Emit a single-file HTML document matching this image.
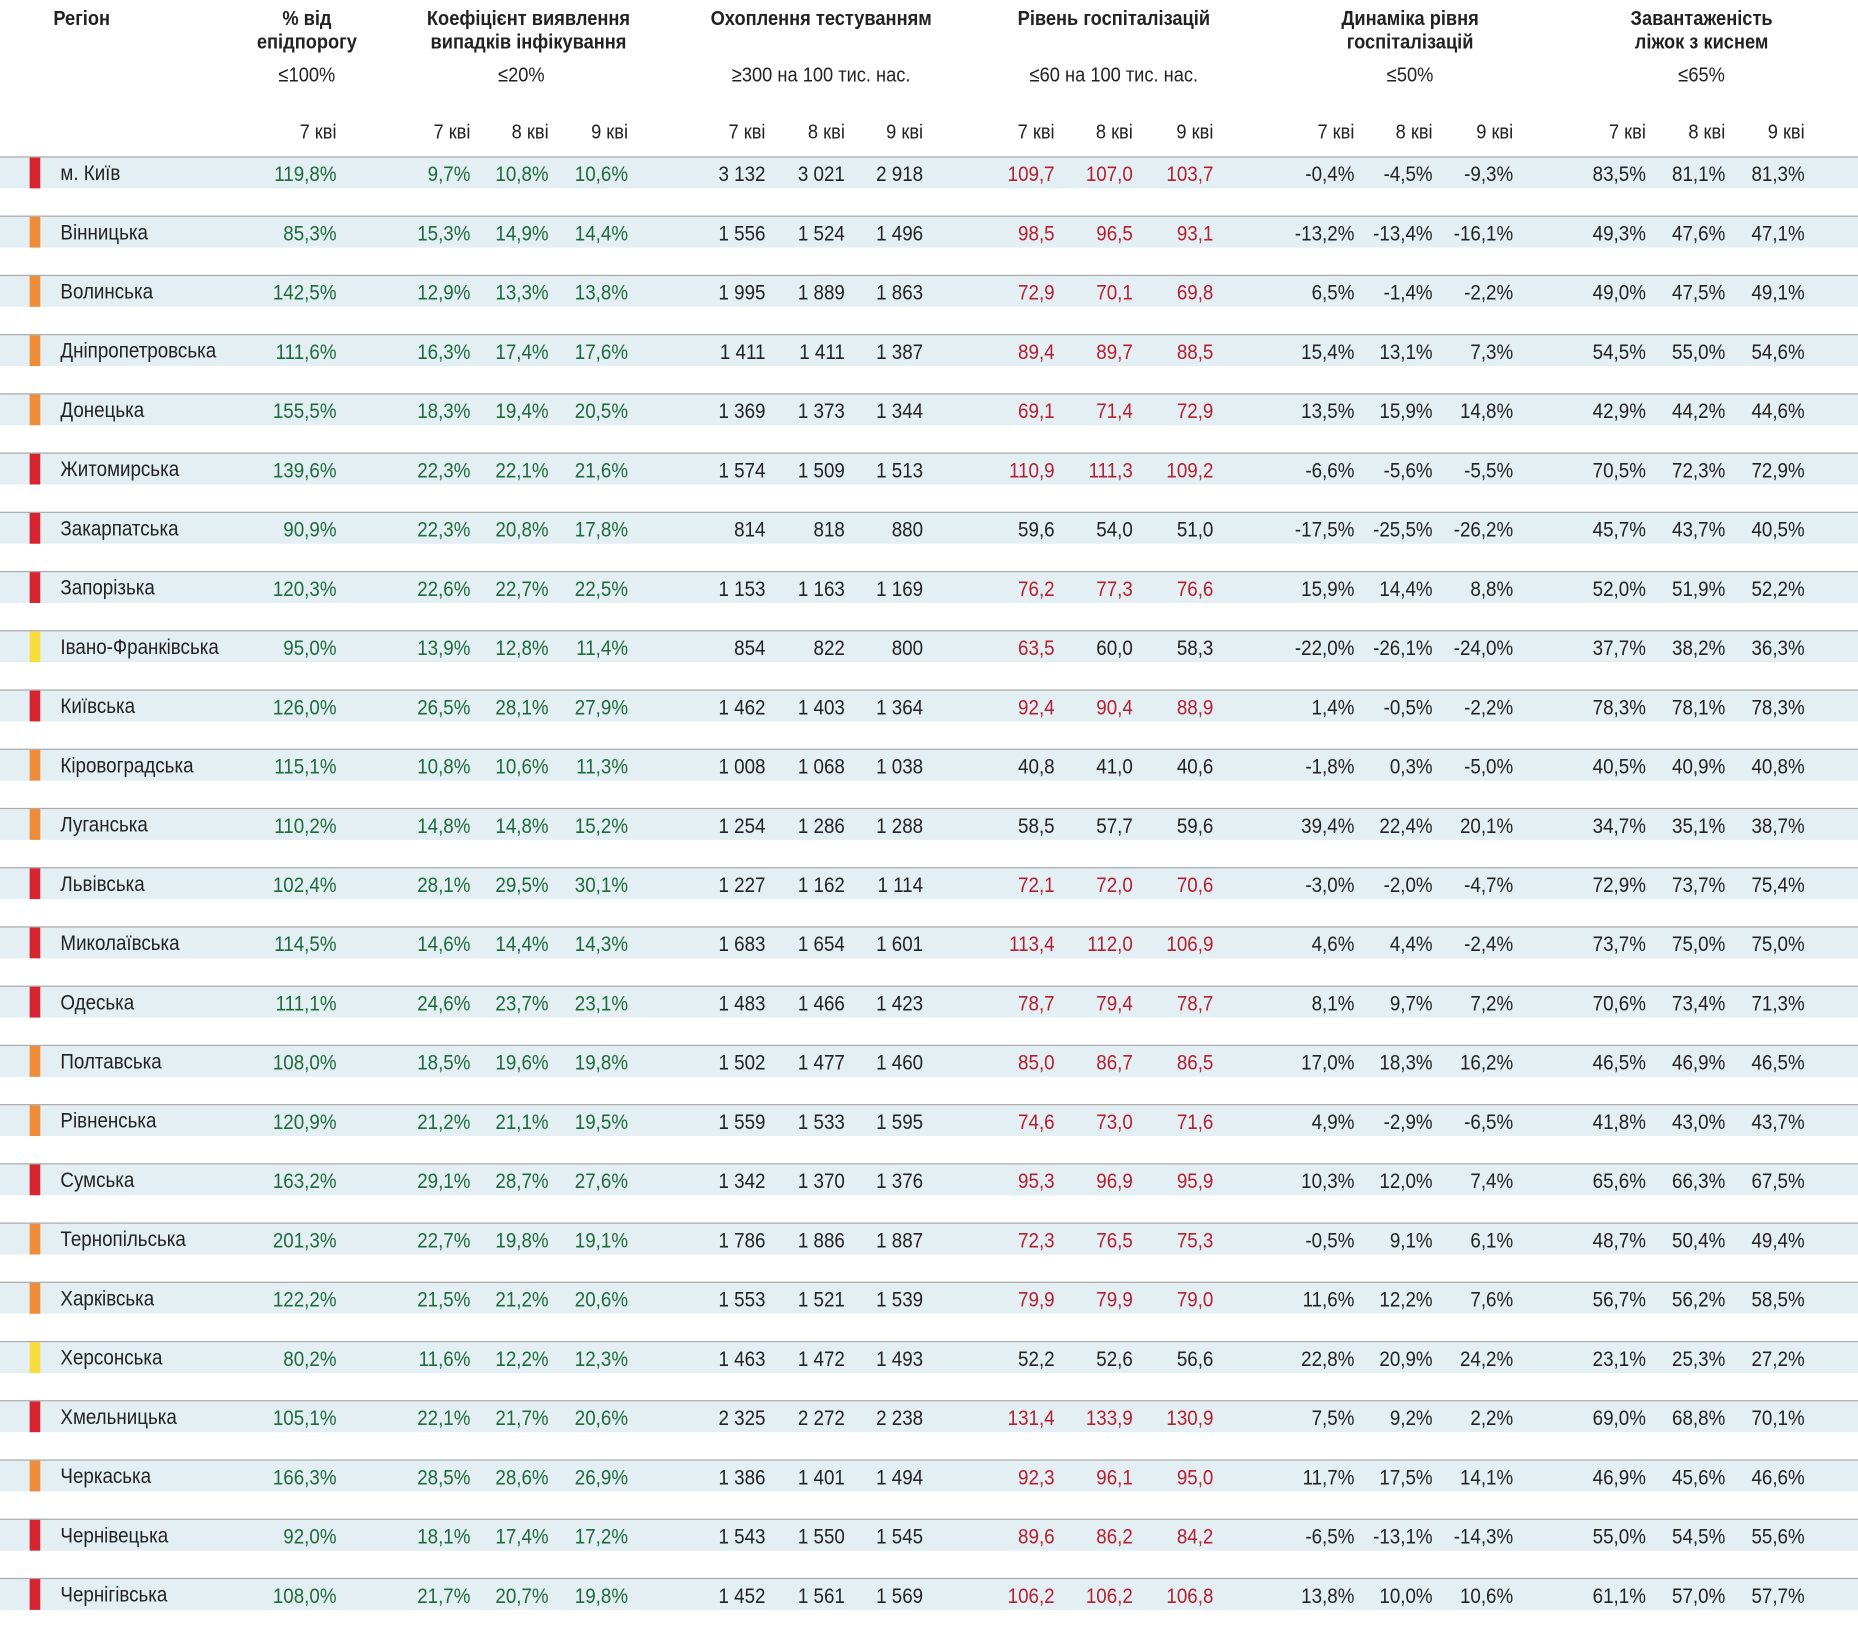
<!DOCTYPE html>
<html><head><meta charset="utf-8">
<style>
html,body{margin:0;padding:0;background:#fff;width:1858px;height:1630px;overflow:hidden}
#wrap{position:absolute;left:0;top:0;width:1568px;height:1376px;transform:scale(1.18495,1.1846);transform-origin:0 0;font-family:"Liberation Sans Narrow","Liberation Sans",sans-serif;color:#222;font-size:18px}
.h{position:absolute;text-align:center;width:260px;margin-left:-130px;line-height:20px;font-weight:bold;font-size:17.5px;color:#222;transform:scaleX(0.88);transform-origin:50% 0}
.t{position:absolute;text-align:center;width:260px;margin-left:-130px;font-size:17.5px;transform:scaleX(0.88);transform-origin:50% 0}
.q{position:absolute;text-align:right;width:70px;font-size:17.5px;transform:scaleX(0.88);transform-origin:100% 0}
.band{position:absolute;left:0;width:1568px;height:26px;background:#e4eff4;border-top:1.5px solid #a9a9a9}
.mk{position:absolute;left:25px;width:9px;height:26px;top:0}
.c{position:absolute;top:1px;line-height:26px;text-align:right;width:90px;transform:scaleX(0.88);transform-origin:100% 0}
.rn{position:absolute;left:51px;top:0px;line-height:26px;transform:scaleX(0.88);transform-origin:0 0;white-space:nowrap}
.g{color:#1d6b3a}.r{color:#b3202f}
</style></head><body>
<div id="wrap">
<div style="position:absolute;left:45px;top:5px;font-weight:bold;font-size:17.5px;transform:scaleX(0.88);transform-origin:0 0">Регіон</div>
<div class="h" style="left:259px;top:5px">% від<br>епідпорогу</div>
<div class="h" style="left:446px;top:5px">Коефіцієнт виявлення<br>випадків інфікування</div>
<div class="h" style="left:693px;top:5px">Охоплення тестуванням</div>
<div class="h" style="left:940px;top:5px">Рівень госпіталізацій</div>
<div class="h" style="left:1190px;top:5px">Динаміка рівня<br>госпіталізацій</div>
<div class="h" style="left:1436px;top:5px">Завантаженість<br>ліжок з киснем</div>
<div class="t" style="left:259px;top:53px">≤100%</div>
<div class="t" style="left:440px;top:53px">≤20%</div>
<div class="t" style="left:693px;top:53px">≥300 на 100 тис. нас.</div>
<div class="t" style="left:940px;top:53px">≤60 на 100 тис. нас.</div>
<div class="t" style="left:1190px;top:53px">≤50%</div>
<div class="t" style="left:1436px;top:53px">≤65%</div>
<div id="dates"></div>
<div id="rows"></div>
</div>
<script>
const regions=["м. Київ","Вінницька","Волинська","Дніпропетровська","Донецька","Житомирська","Закарпатська","Запорізька","Івано-Франківська","Київська","Кіровоградська","Луганська","Львівська","Миколаївська","Одеська","Полтавська","Рівненська","Сумська","Тернопільська","Харківська","Херсонська","Хмельницька","Черкаська","Чернівецька","Чернігівська"];
const levels=["r","o","o","o","o","r","r","r","y","r","o","o","r","r","r","o","o","r","o","o","y","r","o","r","r"];
const epi=["119,8%","85,3%","142,5%","111,6%","155,5%","139,6%","90,9%","120,3%","95,0%","126,0%","115,1%","110,2%","102,4%","114,5%","111,1%","108,0%","120,9%","163,2%","201,3%","122,2%","80,2%","105,1%","166,3%","92,0%","108,0%"];
const coef7=["9,7%","15,3%","12,9%","16,3%","18,3%","22,3%","22,3%","22,6%","13,9%","26,5%","10,8%","14,8%","28,1%","14,6%","24,6%","18,5%","21,2%","29,1%","22,7%","21,5%","11,6%","22,1%","28,5%","18,1%","21,7%"];
const coef8=["10,8%","14,9%","13,3%","17,4%","19,4%","22,1%","20,8%","22,7%","12,8%","28,1%","10,6%","14,8%","29,5%","14,4%","23,7%","19,6%","21,1%","28,7%","19,8%","21,2%","12,2%","21,7%","28,6%","17,4%","20,7%"];
const coef9=["10,6%","14,4%","13,8%","17,6%","20,5%","21,6%","17,8%","22,5%","11,4%","27,9%","11,3%","15,2%","30,1%","14,3%","23,1%","19,8%","19,5%","27,6%","19,1%","20,6%","12,3%","20,6%","26,9%","17,2%","19,8%"];
const test7=["3 132","1 556","1 995","1 411","1 369","1 574","814","1 153","854","1 462","1 008","1 254","1 227","1 683","1 483","1 502","1 559","1 342","1 786","1 553","1 463","2 325","1 386","1 543","1 452"];
const test8=["3 021","1 524","1 889","1 411","1 373","1 509","818","1 163","822","1 403","1 068","1 286","1 162","1 654","1 466","1 477","1 533","1 370","1 886","1 521","1 472","2 272","1 401","1 550","1 561"];
const test9=["2 918","1 496","1 863","1 387","1 344","1 513","880","1 169","800","1 364","1 038","1 288","1 114","1 601","1 423","1 460","1 595","1 376","1 887","1 539","1 493","2 238","1 494","1 545","1 569"];
const hosp7=["109,7","98,5","72,9","89,4","69,1","110,9","59,6","76,2","63,5","92,4","40,8","58,5","72,1","113,4","78,7","85,0","74,6","95,3","72,3","79,9","52,2","131,4","92,3","89,6","106,2"];
const hosp8=["107,0","96,5","70,1","89,7","71,4","111,3","54,0","77,3","60,0","90,4","41,0","57,7","72,0","112,0","79,4","86,7","73,0","96,9","76,5","79,9","52,6","133,9","96,1","86,2","106,2"];
const hosp9=["103,7","93,1","69,8","88,5","72,9","109,2","51,0","76,6","58,3","88,9","40,6","59,6","70,6","106,9","78,7","86,5","71,6","95,9","75,3","79,0","56,6","130,9","95,0","84,2","106,8"];
const dyn7=["-0,4%","-13,2%","6,5%","15,4%","13,5%","-6,6%","-17,5%","15,9%","-22,0%","1,4%","-1,8%","39,4%","-3,0%","4,6%","8,1%","17,0%","4,9%","10,3%","-0,5%","11,6%","22,8%","7,5%","11,7%","-6,5%","13,8%"];
const dyn8=["-4,5%","-13,4%","-1,4%","13,1%","15,9%","-5,6%","-25,5%","14,4%","-26,1%","-0,5%","0,3%","22,4%","-2,0%","4,4%","9,7%","18,3%","-2,9%","12,0%","9,1%","12,2%","20,9%","9,2%","17,5%","-13,1%","10,0%"];
const dyn9=["-9,3%","-16,1%","-2,2%","7,3%","14,8%","-5,5%","-26,2%","8,8%","-24,0%","-2,2%","-5,0%","20,1%","-4,7%","-2,4%","7,2%","16,2%","-6,5%","7,4%","6,1%","7,6%","24,2%","2,2%","14,1%","-14,3%","10,6%"];
const bed7=["83,5%","49,3%","49,0%","54,5%","42,9%","70,5%","45,7%","52,0%","37,7%","78,3%","40,5%","34,7%","72,9%","73,7%","70,6%","46,5%","41,8%","65,6%","48,7%","56,7%","23,1%","69,0%","46,9%","55,0%","61,1%"];
const bed8=["81,1%","47,6%","47,5%","55,0%","44,2%","72,3%","43,7%","51,9%","38,2%","78,1%","40,9%","35,1%","73,7%","75,0%","73,4%","46,9%","43,0%","66,3%","50,4%","56,2%","25,3%","68,8%","45,6%","54,5%","57,0%"];
const bed9=["81,3%","47,1%","49,1%","54,6%","44,6%","72,9%","40,5%","52,2%","36,3%","78,3%","40,8%","38,7%","75,4%","75,0%","71,3%","46,5%","43,7%","67,5%","49,4%","58,5%","27,2%","70,1%","46,6%","55,6%","57,7%"];
const dateLabels=["7 кві","7 кві","8 кві","9 кві","7 кві","8 кві","9 кві","7 кві","8 кві","9 кві","7 кві","8 кві","9 кві","7 кві","8 кві","9 кві"];

const colRight=[284,397,463,530,646,713,779,890,956,1024,1143,1209,1277,1389,1456,1523];
const cols=[[epi,"g"],[coef7,"g"],[coef8,"g"],[coef9,"g"],[test7,""],[test8,""],[test9,""],[hosp7,"h"],[hosp8,"h"],[hosp9,"h"],[dyn7,""],[dyn8,""],[dyn9,""],[bed7,""],[bed8,""],[bed9,""]];
const markColors={r:"#d62431",o:"#ee8c3a",y:"#f7dd3c"};
const names=["epi","coef-7","coef-8","coef-9","test-7","test-8","test-9","hosp-7","hosp-8","hosp-9","dyn-7","dyn-8","dyn-9","beds-7","beds-8","beds-9"];

const dates=document.getElementById('dates');
dateLabels.forEach((d,i)=>{
  const el=document.createElement('div');
  el.className='q';
  
  
  el.style.left=(colRight[i]-70)+'px';el.style.top='101px';
  el.textContent=d;dates.appendChild(el);
});
const rows=document.getElementById('rows');
function num(s){return parseFloat(s.replace(/\s/g,'').replace(',','.'));}
regions.forEach((name,i)=>{
  const b=document.createElement('div');
  b.className='band';
  
  
  b.style.top=(132+50*i)+'px';
  const m=document.createElement('div');
  m.className='mk';
  
  
  m.style.background=markColors[levels[i]];
  b.appendChild(m);
  const n=document.createElement('div');
  n.className='rn';
  
  
  n.textContent=name;b.appendChild(n);
  cols.forEach((c,j)=>{
    const v=c[0][i];
    const e=document.createElement('div');
    e.className='c';
    
    
    let cls=c[1];
    if(cls==='h') cls=num(v)>60?'r':'';
    if(cls) e.classList.add(cls);
    e.style.left=(colRight[j]-90)+'px';
    e.textContent=v;b.appendChild(e);
  });
  rows.appendChild(b);
});
</script>
</body></html>
